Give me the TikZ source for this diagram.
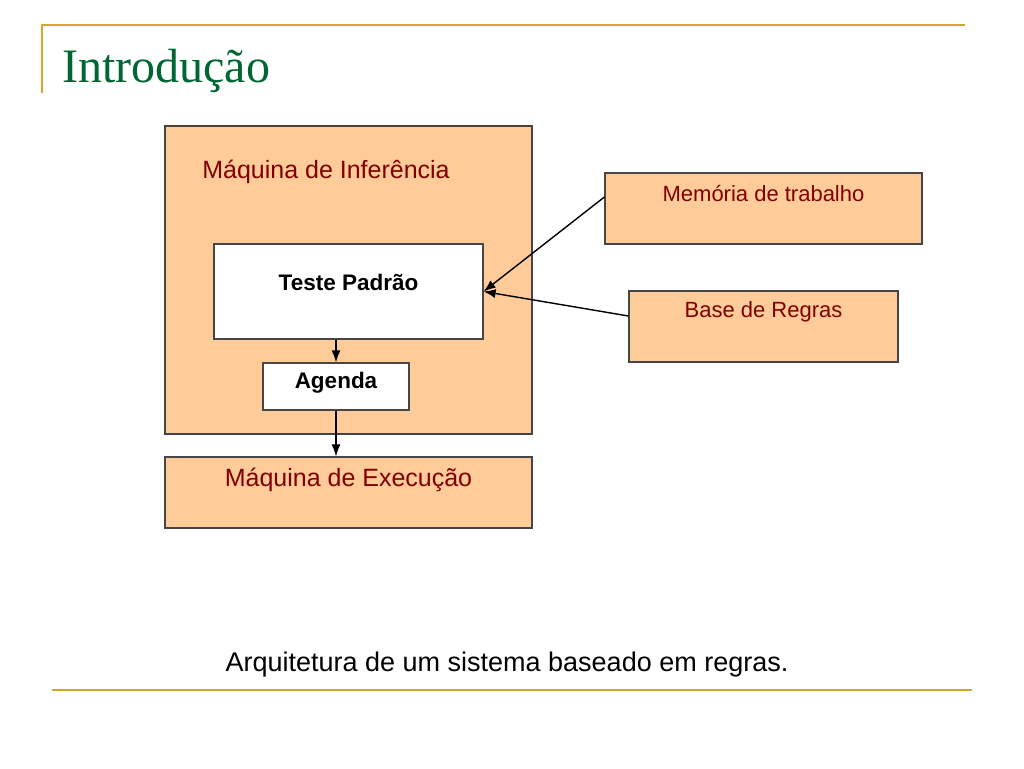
\documentclass[tikz,border=0pt]{standalone}
\usepackage{fontspec}
\setmainfont{Liberation Sans}
\newfontfamily\titlefont{Liberation Serif}
\usepackage{xcolor}
\usetikzlibrary{arrows.meta, calc, positioning}

\definecolor{peach}{RGB}{255,204,153}
\definecolor{boxline}{RGB}{70,70,70}
\definecolor{darkred}{RGB}{128,0,0}
\definecolor{titlegreen}{RGB}{0,102,51}
\definecolor{gold}{RGB}{214,166,40}

\tikzset{
    block/.style={draw=boxline, line width=1.2pt, fill=peach, inner sep=0pt},
    whitebox/.style={draw=boxline, line width=1.2pt, fill=white, inner sep=0pt},
    redtext/.style={text=darkred, inner sep=0pt},
    boldtext/.style={font=\fontsize{22.5}{26}\selectfont\bfseries, inner sep=0pt},
    flow/.style={-{Latex[length=12pt, width=9pt]}, line width=1.4pt}
}

\begin{document}
\begin{tikzpicture}[x=1pt, y=-1pt]
                    \useasboundingbox (0, 0) rectangle (1024, 768);

                    % title and rules
                    \draw[gold, line width=1.8pt]
                    (42, 93) -- (42, 25) -- (965, 25);
                    \draw[gold, line width=1.8pt]
                    (52, 690) -- (972, 690);
                    \node[anchor=base west, inner sep=0pt, text=titlegreen,
                        font=\titlefont\fontsize{48}{52}\selectfont] (title) at (62, 82) {Introdução};

                    % boxes
                    \node[block, minimum width=367pt, minimum height=308pt] (inferencia) at (348.5, 280) {};
                    \node[whitebox, minimum width=269pt, minimum height=95pt] (teste) at (348.5, 291.5) {};
                    \node[whitebox, minimum width=146pt, minimum height=47pt] (agenda) at (336, 386.5) {};
                    \node[block, minimum width=367pt, minimum height=71pt] (execucao) at (348.5, 492.5) {};
                    \node[block, minimum width=317pt, minimum height=71pt] (memoria) at (763.5, 208.5) {};
                    \node[block, minimum width=269pt, minimum height=71pt] (regras) at (763.5, 326.5) {};

                    % texts
                    \node[redtext, font=\fontsize{25}{30}\selectfont] (inferencia text) at (326, 172) {Máquina de Inferência};
                    \node[boldtext] (teste text) at (348.5, 282) {Teste Padrão};
                    \node[boldtext] (agenda text) at (336, 383) {Agenda};
                    \node[redtext, font=\fontsize{25}{30}\selectfont] (execucao text) at (348.5, 480) {Máquina de Execução};
                    \node[redtext, font=\fontsize{22}{26}\selectfont] (memoria text) at (763.5, 194) {Memória de trabalho};
                    \node[redtext, font=\fontsize{22}{26}\selectfont] (regras text) at (763.5, 312) {Base de Regras};

                    % connectors
                    \draw[flow] ([yshift=11.5pt]memoria.west) -- (teste.east);
                    \draw[flow] ([yshift=10.5pt]regras.west) -- (teste.east);
                    \draw[flow] (teste.south -| agenda.north) -- (agenda.north);
                    \draw[flow] (agenda.south) -- (agenda.south |- execucao.north);

                    \node[inner sep=0pt, font=\fontsize{27}{32}\selectfont] (caption) at (507, 665) {Arquitetura de um sistema baseado em regras.};
                \end{tikzpicture}
\end{document}
